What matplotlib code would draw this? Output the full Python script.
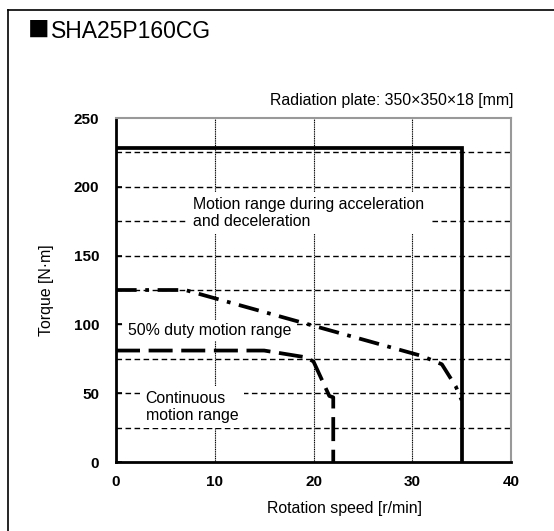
import numpy as np
import matplotlib.pyplot as plt
from matplotlib.lines import Line2D

plt.rcParams['font.family'] = ['Liberation Sans', 'DejaVu Sans']

# max torque (acceleration / deceleration)
accel_x = [0, 35, 35]
accel_y = [228, 228, 0]
# 50% duty motion range
duty_x = [0, 7, 31, 33, 34.4, 35]
duty_y = [125, 125, 77, 71, 55, 45]
# continuous motion range
cont_x = [0, 15, 19.3, 20, 21.6, 22, 22]
cont_y = [81, 81, 76, 73, 48, 47, 0]

x_ticks = [0, 10, 20, 30, 40]
y_ticks = [0, 50, 100, 150, 200, 250]
y_grid = [25, 50, 75, 100, 125, 150, 175, 200, 225]

fig = plt.figure(figsize=(5.54, 5.31), dpi=100)
ax = fig.add_axes([116/554, 69/531, 395/554, 344/531])

# outer frame (only top and left visible)
fig.add_artist(Line2D([8/554, 8/554], [0, 1-10/531], transform=fig.transFigure, color='black', lw=1.2))
fig.add_artist(Line2D([8/554, 1], [1-10/531, 1-10/531], transform=fig.transFigure, color='black', lw=1.2))

for v in y_grid:
    ax.axhline(v, color='black', lw=1, linestyle=(0, (4, 2.5)), zorder=1)
for v in [10, 20, 30]:
    ax.axvline(v, color='black', lw=0.8, linestyle=(0, (1, 0.6)), zorder=1)

ax.plot(accel_x, accel_y, color='black', lw=2.7, zorder=3, solid_joinstyle='miter')
ax.plot(duty_x, duty_y, color='black', lw=2.7, linestyle=(0, (5.5, 2.3, 1, 2.3)), zorder=3)
ax.plot(cont_x, cont_y, color='black', lw=2.7, linestyle=(0, (6.4, 2.3)), zorder=3)

ax.text(7.8, 181, 'Motion range during acceleration\nand deceleration', fontsize=11.4,
        va='center', ha='left', linespacing=1.15, bbox=dict(facecolor='white', edgecolor='none', pad=4), zorder=2)
ax.text(1.2, 95.5, '50% duty motion range', fontsize=11.4, va='center', ha='left',
        bbox=dict(facecolor='white', edgecolor='none', pad=2), zorder=2)
ax.text(3.0, 40, 'Continuous\nmotion range', fontsize=11.4, va='center', ha='left',
        linespacing=1.15, bbox=dict(facecolor='white', edgecolor='none', pad=4), zorder=2)

ax.set_xlim(0, 40)
ax.set_ylim(0, 250)
ax.set_xticks(x_ticks)
ax.set_yticks(y_ticks)
ax.tick_params(axis='both', direction='in', length=4, width=1.2, labelsize=11)
ax.tick_params(axis='x', pad=9, length=0)
ax.tick_params(axis='y', pad=12)
for lab in ax.get_xticklabels() + ax.get_yticklabels():
    lab.set_fontweight('bold')

for s in ['left', 'bottom']:
    ax.spines[s].set_linewidth(2)
    ax.spines[s].set_color('black')
for s in ['top', 'right']:
    ax.spines[s].set_linewidth(1.5)
    ax.spines[s].set_color('#999999')

fig.text(344/554, 1-508/531, 'Rotation speed [r/min]', fontsize=11.4, va='center', ha='center')
ax.set_ylabel('Torque [N·m]', fontsize=11.4, labelpad=14)

fig.text(28/554, 1-37/531, '■', fontsize=15.5, va='baseline', ha='left',
         family=['Noto Sans CJK SC', 'DejaVu Sans'])
fig.text(51/554, 1-37.5/531, 'SHA25P160CG', fontsize=16.5, va='baseline', ha='left')
fig.text(513/554, 1-100/531, 'Radiation plate: 350×350×18 [mm]', fontsize=11.4, va='center', ha='right')

fig.savefig('out.png', dpi=100)
